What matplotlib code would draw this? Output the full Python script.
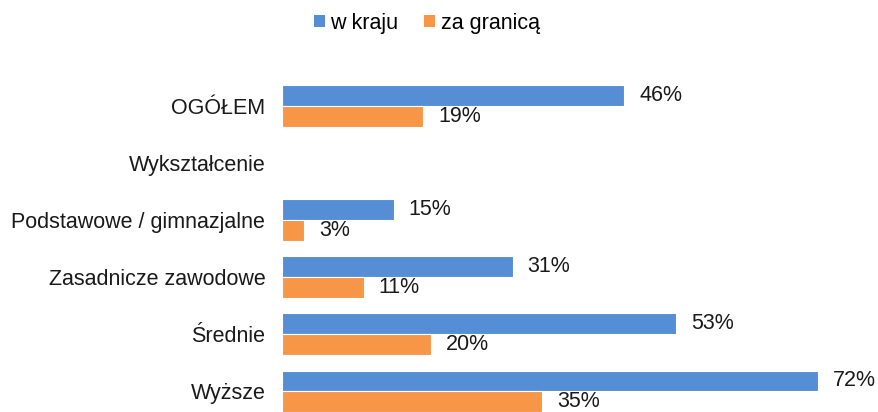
import matplotlib
matplotlib.use("Agg")
import matplotlib.pyplot as plt
import numpy as np
from matplotlib.patches import Patch

plt.rcParams['font.family'] = ['Liberation Sans', 'DejaVu Sans']

categories = ["OGÓŁEM", "Wykształcenie", "Podstawowe / gimnazjalne",
              "Zasadnicze zawodowe", "Średnie", "Wyższe"]
w_kraju = [46, None, 15, 31, 53, 72]
za_granica = [19, None, 3, 11, 20, 35]
series_names = ["w kraju", "za granicą"]
colors = ["#558ED5", "#F79646"]

FS = 15.5

fig = plt.figure(figsize=(8.79, 4.12), dpi=100)
H = 412.0
W = 879.0
ax = fig.add_axes([282 / W, 0.0, (877 - 282) / W, (412 - 60) / H])
ax.set_xlim(0, 80)
ax.set_ylim(5.36, -0.8)

h = 0.365
y = np.arange(len(categories))
for vals, off, col in [(w_kraju, -h / 2, colors[0]), (za_granica, h / 2, colors[1])]:
    for yi, v in zip(y, vals):
        if v is None:
            continue
        ax.barh(yi + off, v, height=h, color=col, edgecolor="white", linewidth=0.8)
        ax.text(v + 2.0, yi + off, f"{v}%", va="center", ha="left",
                fontsize=FS, color="#1a1a1a")

ax.set_yticks(y)
ax.set_yticklabels(categories, fontsize=FS, color="#1a1a1a")
ax.tick_params(axis="y", length=0, pad=12)
ax.set_xticks([])
for s in ax.spines.values():
    s.set_visible(False)

handles = [Patch(facecolor=c, edgecolor="none") for c in colors]
fig.legend(handles, series_names, loc="center", bbox_to_anchor=(427 / W, 1 - 23.5 / H),
           ncol=2, frameon=False, fontsize=FS, handlelength=0.5, handleheight=0.5,
           handletextpad=0.25, columnspacing=1.2)

fig.savefig("out.png", dpi=100)
